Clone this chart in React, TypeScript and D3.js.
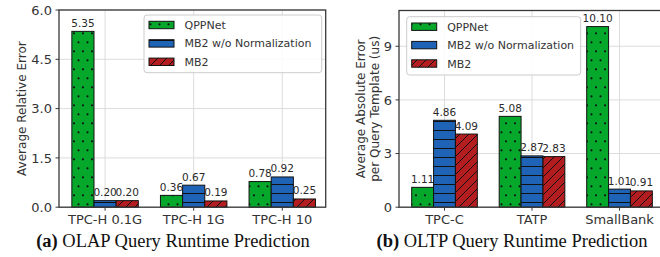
import React from "react";
import * as d3 from "d3";

const seriesNames = ["QPPNet", "MB2 w/o Normalization", "MB2"];
const seriesColors = ["#05a82b", "#1f63b6", "#b31d1f"];
const seriesHatch = ["dots", "hlines", "diag"];

const olapCategories = ["TPC-H 0.1G", "TPC-H 1G", "TPC-H 10"];
const olapQPPNet = [5.35, 0.36, 0.78];
const olapMB2woNorm = [0.2, 0.67, 0.92];
const olapMB2 = [0.2, 0.19, 0.25];
const olapTicks = [0, 1.5, 3.0, 4.5, 6.0];

const oltpCategories = ["TPC-C", "TATP", "SmallBank"];
const oltpQPPNet = [1.11, 5.08, 10.1];
const oltpMB2woNorm = [4.86, 2.87, 1.01];
const oltpMB2 = [4.09, 2.83, 0.91];
const oltpTicks = [0, 3, 6, 9];

const SANS = "'DejaVu Sans', sans-serif";
const SERIF = "'Liberation Serif', 'DejaVu Serif', serif";
const AXIS = "#383838";
const GRID = "#dcdcdc";

type PanelProps = {
  categories: string[];
  series: number[][];
  yMax: number;
  ticks: number[];
  tickFmt: (v: number) => string;
  left: number;
  right: number;
  top: number;
  bottom: number;
  yLabel: string[];
  yLabelX: number[];
  legendBox: { x: number; y: number; w: number; h: number };
  caption: [string, string];
  captionX: number;
};

function Panel(p: PanelProps) {
  const x = d3.scaleLinear().domain([-0.52, 2.49]).range([p.left, p.right]);
  const y = d3.scaleLinear().domain([0, p.yMax]).range([p.bottom, p.top]);
  const step = x(1) - x(0);
  const bw = step * 0.25;
  const midY = (p.top + p.bottom) / 2;
  const lb = p.legendBox;
  return (
    <g>
      {/* grid */}
      {p.categories.map((c, i) => (
        <line key={"gx" + i} x1={x(i)} x2={x(i)} y1={p.top} y2={p.bottom} stroke={GRID} strokeWidth={1} />
      ))}
      {p.ticks.map((t, i) => (
        <line key={"gy" + i} x1={p.left} x2={p.right} y1={y(t)} y2={y(t)} stroke={GRID} strokeWidth={1} />
      ))}
      {/* bars */}
      {p.series.map((vals, s) =>
        vals.map((v, i) => {
          const bx = x(i) + (s - 1) * bw - bw / 2;
          const by = y(v);
          const bh = y(0) - y(v);
          return (
            <g key={"b" + s + "-" + i}>
              <rect x={bx} y={by} width={bw} height={bh} fill={seriesColors[s]} />
              <rect x={bx} y={by} width={bw} height={bh} fill={`url(#${seriesHatch[s]})`} />
              <rect x={bx} y={by} width={bw} height={bh} fill="none" stroke="#111" strokeWidth={1} />
            </g>
          );
        })
      )}
      {/* value labels */}
      {p.series.map((vals, s) =>
        vals.map((v, i) => (
          <text
            key={"v" + s + "-" + i}
            x={x(i) + (s - 1) * bw}
            y={y(v) - 4.5}
            textAnchor="middle"
            fontFamily={SANS}
            fontSize={10.5}
            fill="#2a2a2a"
          >
            {v.toFixed(2)}
          </text>
        ))
      )}
      {/* frame */}
      <rect x={p.left} y={p.top} width={p.right - p.left} height={p.bottom - p.top} fill="none" stroke={AXIS} strokeWidth={1.3} />
      {/* y ticks */}
      {p.ticks.map((t, i) => (
        <g key={"yt" + i}>
          <line x1={p.left - 3.5} x2={p.left} y1={y(t)} y2={y(t)} stroke={AXIS} strokeWidth={1} />
          <text x={p.left - 7} y={y(t) + 4.7} textAnchor="end" fontFamily={SANS} fontSize={13} fill="#333">
            {p.tickFmt(t)}
          </text>
        </g>
      ))}
      {/* x ticks */}
      {p.categories.map((c, i) => (
        <g key={"xt" + i}>
          <line x1={x(i)} x2={x(i)} y1={p.bottom} y2={p.bottom + 3.5} stroke={AXIS} strokeWidth={1} />
          <text x={x(i)} y={p.bottom + 17} textAnchor="middle" fontFamily={SANS} fontSize={13} fill="#333">
            {c}
          </text>
        </g>
      ))}
      {/* y label */}
      {p.yLabel.map((l, i) => (
        <text
          key={"yl" + i}
          transform={`translate(${p.yLabelX[i]},${midY}) rotate(-90)`}
          textAnchor="middle"
          fontFamily={SANS}
          fontSize={12}
          fill="#333"
        >
          {l}
        </text>
      ))}
      {/* legend */}
      <rect x={lb.x} y={lb.y} width={lb.w} height={lb.h} rx={3} fill="white" fillOpacity={0.85} stroke="#cccccc" strokeWidth={1} />
      {seriesNames.map((n, s) => {
        const cy = lb.y + 10 + s * 18.4;
        const px = lb.x + 5;
        return (
          <g key={"lg" + s}>
            <rect x={px} y={cy - 3.7} width={25} height={7.4} fill={seriesColors[s]} />
            <rect x={px} y={cy - 3.7} width={25} height={7.4} fill={`url(#${seriesHatch[s]})`} />
            <rect x={px} y={cy - 3.7} width={25} height={7.4} fill="none" stroke="#111" strokeWidth={1} />
            <text x={px + 35.5} y={cy + 4} fontFamily={SANS} fontSize={11} fill="#333">
              {n}
            </text>
          </g>
        );
      })}
      {/* caption */}
      <text x={p.captionX} y={247} textAnchor="middle" fontFamily={SERIF} fontSize={18.5} fill="#111">
        <tspan fontWeight="bold">{p.caption[0]}</tspan>
        <tspan>{" " + p.caption[1]}</tspan>
      </text>
    </g>
  );
}

export default function App() {
  return (
    <svg
      width={660}
      height={257}
      viewBox="0 0 660 257"
      style={{ position: "absolute", left: 0, top: 0, background: "white" }}
    >
      <defs>
        <pattern id="dots" patternUnits="userSpaceOnUse" width={9} height={18}>
          <circle cx={2} cy={15.3} r={1.1} fill="#111" />
          <circle cx={6.5} cy={6.3} r={1.1} fill="#111" />
        </pattern>
        <pattern id="hlines" patternUnits="userSpaceOnUse" width={9} height={9}>
          <line x1={0} x2={9} y1={4.5} y2={4.5} stroke="#111" strokeWidth={1} />
        </pattern>
        <pattern id="diag" patternUnits="userSpaceOnUse" width={9} height={9}>
          <path d="M0,9 L9,0 M-2.25,2.25 L2.25,-2.25 M6.75,11.25 L11.25,6.75" stroke="#111" strokeWidth={1} />
        </pattern>
      </defs>
      <rect x={0} y={0} width={660} height={257} fill="white" />
      <Panel
        categories={olapCategories}
        series={[olapQPPNet, olapMB2woNorm, olapMB2]}
        yMax={6}
        ticks={olapTicks}
        tickFmt={(v) => v.toFixed(1)}
        left={59}
        right={325.7}
        top={10}
        bottom={207.2}
        yLabel={["Average Relative Error"]}
        yLabelX={[26]}
        legendBox={{ x: 144, y: 15, w: 177.7, h: 57.7 }}
        caption={["(a)", "OLAP Query Runtime Prediction"]}
        captionX={173}
      />
      <Panel
        categories={oltpCategories}
        series={[oltpQPPNet, oltpMB2woNorm, oltpMB2]}
        yMax={11}
        ticks={oltpTicks}
        tickFmt={(v) => String(v)}
        left={399}
        right={662.4}
        top={10.5}
        bottom={207.2}
        yLabel={["Average Absolute Error", "per Query Template (us)"]}
        yLabelX={[364.5, 379]}
        legendBox={{ x: 406.7, y: 16.7, w: 174, h: 58.3 }}
        caption={["(b)", "OLTP Query Runtime Prediction"]}
        captionX={512}
      />
    </svg>
  );
}
